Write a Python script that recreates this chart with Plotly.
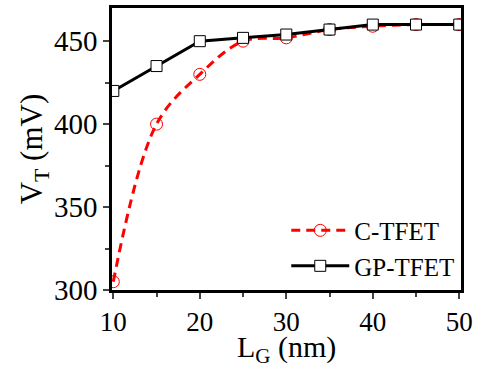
import plotly.graph_objects as go

lg = [10, 15, 20, 25, 30, 35, 40, 45, 50]
c_tfet = [305, 400, 430, 450, 452, 457, 459, 460, 460]
gp_tfet = [420, 435, 450, 452, 454, 457, 460, 460, 460]

font = "Liberation Serif"

fig = go.Figure()
fig.add_trace(go.Scatter(
    x=lg, y=c_tfet, name="C-TFET", mode="lines+markers",
    line=dict(color="#ff0000", width=3, dash="9px,6px", shape="spline"),
    marker=dict(symbol="circle-open", size=12, color="#ff0000", line=dict(width=1)),
))
fig.add_trace(go.Scatter(
    x=lg, y=gp_tfet, name="GP-TFET", mode="lines+markers",
    line=dict(color="black", width=3),
    marker=dict(symbol="square", size=11, color="white", line=dict(color="black", width=1)),
))

fig.update_layout(
    width=482, height=368,
    margin=dict(l=112, r=21, t=8, b=78),
    paper_bgcolor="white", plot_bgcolor="white",
    font=dict(family=font, size=29, color="black"),
    showlegend=True,
    legend=dict(x=0.995, y=0.005, xanchor="right", yanchor="bottom",
                bgcolor="rgba(0,0,0,0)", font=dict(size=25), itemwidth=58,
                tracegroupgap=0),
    xaxis=dict(range=[9.85, 50.2], tickvals=[10, 20, 30, 40, 50], automargin=False,
               ticks="outside", ticklen=6, tickwidth=2, showgrid=False, zeroline=False,
               showline=True, linewidth=2.5, linecolor="black", mirror=True,
               minor=dict(tickvals=[15, 25, 35, 45], ticks="outside", ticklen=4, tickwidth=1.5),
               tickfont=dict(size=27)),
    yaxis=dict(range=[300, 470], tickvals=[300, 350, 400, 450], automargin=False,
               ticks="outside", ticklen=6, tickwidth=2, showgrid=False, zeroline=False,
               showline=True, linewidth=2.5, linecolor="black", mirror=True,
               minor=dict(tickvals=[325, 375, 425], ticks="outside", ticklen=4, tickwidth=1.5),
               title=dict(text="V<sub>T</sub> (mV)", standoff=0, font=dict(size=31)),
               tickfont=dict(size=29)),
    annotations=[dict(text="L<sub>G</sub> (nm)", xref="paper", yref="paper",
                      x=0.5, y=-0.21, xanchor="center", yanchor="middle",
                      showarrow=False, font=dict(size=30))],
)

fig.write_html("out.html")
